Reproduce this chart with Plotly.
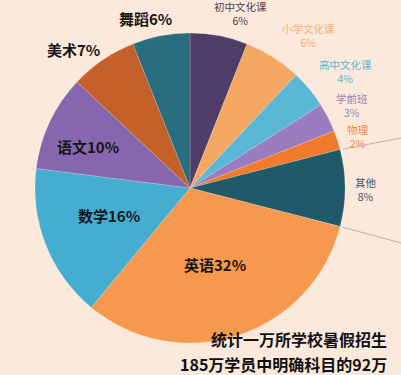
import math
import plotly.graph_objects as go

# ---- data ----
subjects = ["初中文化课", "小学文化课", "高中文化课", "学前班", "物理", "其他",
            "英语", "数学", "语文", "美术", "舞蹈"]
shares = [6, 6, 4, 3, 2, 8, 32, 16, 10, 7, 6]
slice_colors = ["#4e3d68", "#f5a862", "#59b8d6", "#9a7cc0", "#f27a2c", "#1f5a6b",
                "#f6994e", "#45aed0", "#8666ae", "#c4602a", "#296d80"]
label_kind = ["small", "small", "small", "small", "small", "small",
              "in", "in", "in", "big", "big"]
small_label_colors = ["#4a4152", "#f2b07a", "#5ab6d2", "#9a80c2", "#ef8a3c", "#3c5561"]
note_lines = ["统计一万所学校暑假招生", "185万学员中明确科目的92万"]

W, H = 401, 375
BG = "#fce9db"
cx, cy, R = 190, 188, 155

fig = go.Figure(go.Pie(
    labels=subjects, values=shares, sort=False, direction="clockwise", rotation=0,
    marker=dict(colors=slice_colors, line=dict(color="rgba(252,233,219,0.35)", width=0.6)),
    textinfo="none", hoverinfo="label+percent",
    domain=dict(x=[(cx - R) / W, (cx + R) / W], y=[(H - cy - R) / H, (H - cy + R) / H]),
    showlegend=False,
))

def px2paper(x, y):
    return x / W, 1 - y / H

# centre points (pixels) of the two-line outside small labels
small_pos = [(240, 14), (308, 36), (345, 71), (352, 105), (358, 136), (366, 189)]
big_pos = {"英语": None, "数学": (109, 215), "语文": (88, 146), "美术": (73, 50), "舞蹈": (145, 18)}

annotations = []
cum = 0
si = 0
total = sum(shares)
for name, v, kind in zip(subjects, shares, label_kind):
    mid = (cum + v / 2) / total * 2 * math.pi
    cum += v
    if kind == "small":
        x, y = small_pos[si]
        col = small_label_colors[si]
        si += 1
        px, py = px2paper(x, y)
        annotations.append(dict(x=px, y=py, xref="paper", yref="paper", showarrow=False,
                                text=f"{name}<br>{v}%", align="center",
                                font=dict(size=10.5, color=col, family="Noto Sans CJK SC"),
                                xanchor="center", yanchor="middle", borderpad=0))
        continue
    pos = big_pos.get(name)
    if pos is None:
        r = 0.52 * R
        x = cx + r * math.sin(mid)
        y = cy - r * math.cos(mid)
    else:
        x, y = pos
    px, py = px2paper(x, y)
    annotations.append(dict(x=px, y=py, xref="paper", yref="paper", showarrow=False,
                            text=f"<b>{name}{v}%</b>",
                            font=dict(size=15, color="#161616", family="Noto Sans CJK SC"),
                            xanchor="center", yanchor="middle"))

for line, ypx in zip(note_lines, [339, 364]):
    px, py = px2paper(389, ypx)
    annotations.append(dict(x=px, y=py, xref="paper", yref="paper", showarrow=False,
                            text=f"<b>{line}</b>",
                            font=dict(size=16, color="#111111", family="Noto Sans CJK SC"),
                            xanchor="right", yanchor="middle"))

shapes = [
    dict(type="line", xref="paper", yref="paper",
         x0=343 / W, y0=1 - 149 / H, x1=1, y1=1 - 138 / H,
         line=dict(color="#a9a39c", width=0.8)),
    dict(type="line", xref="paper", yref="paper",
         x0=342 / W, y0=1 - 227 / H, x1=1, y1=1 - 243 / H,
         line=dict(color="#a9a39c", width=0.8)),
]

fig.update_layout(
    width=W, height=H, margin=dict(l=0, r=0, t=0, b=0),
    paper_bgcolor=BG, plot_bgcolor=BG,
    annotations=annotations, shapes=shapes,
    font=dict(family="Noto Sans CJK SC"),
)

fig.write_html("out.html", config={"displayModeBar": False},
               post_script="document.body.style.margin='0';document.body.style.background='%s';" % BG)
